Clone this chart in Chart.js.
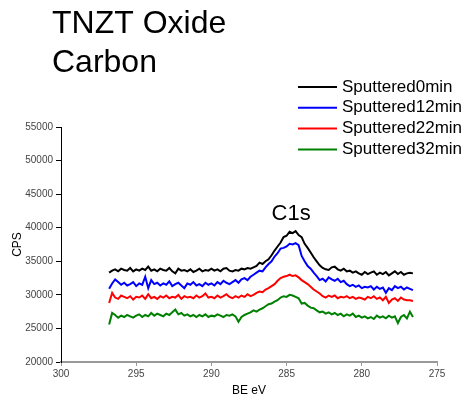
<!DOCTYPE html>
<html lang="en">
<head>
    <script src="https://cdn.jsdelivr.net/npm/chart.js"></script>
    <title>TNZT Oxide Carbon</title>
    <style>
        html, body {
            margin: 0;
            padding: 0;
            background: #fff;
        }
        canvas {
            display: block;
        }
    </style>
</head>
<body>
    <canvas id="xpsChart" width="464" height="398"></canvas>

    <script>
        // binding energy of first point and spacing (eV)
        const BE_START = 296.8;
        const BE_STEP = 0.2;

        const seriesNames = ['Sputtered0min', 'Sputtered12min', 'Sputtered22min', 'Sputtered32min'];
        const seriesColors = ['#000000', '#0000ff', '#ff0000', '#008000'];

        const sputtered0 = [
            33300, 33600, 33800, 33500, 33900, 33700, 33600, 34000, 33500, 33800,
            33600, 33900, 33700, 34200, 33600, 33800, 33500, 33900, 33700, 33600,
            34000, 33500, 33200, 33900, 33600, 33700, 33500, 33800, 33400, 33600,
            33900, 33500, 33700, 33600, 33900, 33600, 33800, 33500, 33900, 34000,
            33600, 33500, 33700, 33600, 33900, 33800, 34000, 33900, 34100, 34300,
            34800, 34600, 35000, 35300, 35900, 36600, 37200, 37800, 38600, 38800,
            39400, 39200, 39500, 38900, 38600, 37600, 37000, 36300, 35600, 35000,
            34400, 34000, 33800, 33700, 34100, 34200, 33800, 33600, 33900, 33500,
            33600, 33300, 33500, 33200, 33000, 33400, 33100, 33300, 33500, 33000,
            33300, 33100, 33400, 32900, 33200, 33500, 33100, 33400, 33000, 33200,
            33300, 33200
        ];
        const sputtered12 = [
            30900, 31700, 32300, 31900, 31500, 31800, 31400, 31600, 31900, 31300,
            31700, 31500, 32700, 31000, 32200, 31600, 31800, 31400, 31700, 31500,
            32000, 31300, 31600, 31800, 31400, 31000, 31700, 31500, 31900, 31400,
            31600, 31300, 31800, 31500, 31700, 31400, 31900, 31600, 32100, 31800,
            31600, 31900, 32200, 31800, 32300, 32500, 32200, 32700, 33000, 33300,
            33600, 33500, 34100, 34600, 35000, 35700, 36200, 36900, 37000, 37200,
            37600, 37500, 37700, 37400, 35800, 35000, 34300, 33900, 33300, 32800,
            32200, 32400, 32000, 32600, 32300, 32100, 32400, 31900, 32100, 31600,
            31300, 31500, 31200, 31400, 31000, 31200, 31100, 31300, 30800, 31200,
            30900, 31100, 30300, 31000, 30700, 31300, 31000, 31200, 30800, 31100,
            30900, 30700
        ];
        const sputtered22 = [
            28800, 30300, 29600, 29400, 29900, 29700, 29500, 29800, 29300, 29700,
            29600, 29900, 29400, 30100, 29500, 29700, 29400, 29800, 29600, 29900,
            29500, 29700, 29600, 30000, 29400, 29800, 29600, 29700, 29500, 29900,
            29600, 29800, 30200, 29600, 29700, 29500, 29900, 29600, 29800, 30100,
            29700, 29500, 29800, 29600, 29900, 29700, 30100, 29800, 30000, 30300,
            30500, 30400, 30800, 31000, 31300, 31600, 32100, 32500, 32700, 32800,
            33000, 32800, 32900, 32600, 32200, 31900, 31600, 31200, 30800, 30500,
            30200, 29800, 29600, 29900, 29700, 29900, 29500, 29700, 29600, 29800,
            29500, 29700, 29400, 29600, 29500, 29300, 29700, 29500, 29800, 29400,
            29600, 29200, 29700, 28800, 29300, 29500, 29100, 29600, 29300, 29200,
            29200, 29100
        ];
        const sputtered32 = [
            25600, 27300, 27000, 26600, 26900, 26700, 27000, 26800, 26600, 26900,
            27100, 26700, 27000, 26800, 27300, 26900, 27200, 27000, 26800, 27200,
            27000, 27400, 27800, 27100, 27300, 26900, 27100, 26800, 27000, 26700,
            27000, 26800, 27100, 26700, 26900, 26800, 27100, 26900, 26700, 27000,
            26900, 27100, 26800, 26000, 26700, 27000, 27200, 27400, 27700, 27500,
            27800, 28000, 28300, 28600, 28700, 29000, 29200, 29600, 29800, 29700,
            30000, 29900, 29700, 29500, 28700, 28800, 28400, 28100, 28000, 27700,
            27400, 27500, 27200, 27400, 27100, 27300, 27000, 27200, 26800, 27100,
            26900, 27200, 26700, 26900, 26600, 26800, 26500, 26700, 26400, 26900,
            26600, 26800, 26500, 26900, 26600, 26800, 25800, 26700, 27000, 26500,
            27500, 26700
        ];
        const seriesValues = [sputtered0, sputtered12, sputtered22, sputtered32];

        const xMin = 275, xMax = 300, xStep = 5;
        const yMin = 20000, yMax = 55000, yStep = 5000;

        const peakLabel = 'C1s';
        const peakLabelAt = { x: 284.7, y: 42000 };

        function toPoints(values) {
            return values.map((v, i) => ({ x: +(BE_START - i * BE_STEP).toFixed(1), y: v }));
        }

        const FONT = '"Liberation Sans", Arial, sans-serif';

        const textPlugin = {
            id: 'textPlugin',
            afterDraw(chart) {
                const ctx = chart.ctx;
                ctx.save();
                ctx.fillStyle = '#000';
                ctx.textAlign = 'left';
                ctx.textBaseline = 'alphabetic';
                ctx.font = '32px ' + FONT;
                ctx.fillText('TNZT Oxide', 52, 33);
                ctx.fillText('Carbon', 52, 72);

                // legend
                ctx.font = '17px ' + FONT;
                ctx.textBaseline = 'middle';
                seriesNames.forEach((name, i) => {
                    const y = 87 + i * 20.8;
                    ctx.strokeStyle = seriesColors[i];
                    ctx.lineWidth = 2;
                    ctx.beginPath();
                    ctx.moveTo(298, y);
                    ctx.lineTo(337, y);
                    ctx.stroke();
                    ctx.fillStyle = '#000';
                    ctx.fillText(name, 342, y);
                });

                // peak annotation
                ctx.font = '22px ' + FONT;
                ctx.textAlign = 'center';
                ctx.fillText(peakLabel,
                    chart.scales.x.getPixelForValue(peakLabelAt.x),
                    chart.scales.y.getPixelForValue(peakLabelAt.y));
                ctx.restore();
            }
        };

        const ctx = document.getElementById('xpsChart').getContext('2d');
        const xpsChart = new Chart(ctx, {
            type: 'line',
            data: {
                datasets: seriesNames.map((name, i) => ({
                    label: name,
                    data: toPoints(seriesValues[i]),
                    borderColor: seriesColors[i],
                    backgroundColor: seriesColors[i],
                    borderWidth: 2,
                    pointRadius: 0,
                    tension: 0,
                    fill: false
                }))
            },
            options: {
                responsive: false,
                animation: false,
                devicePixelRatio: 1,
                layout: {
                    padding: { top: 127, right: 27, left: 0, bottom: 0 }
                },
                plugins: {
                    legend: { display: false },
                    tooltip: { enabled: false }
                },
                scales: {
                    x: {
                        type: 'linear',
                        reverse: true,
                        min: xMin,
                        max: xMax,
                        afterFit: s => { s.height = 36; },
                        border: { color: '#999', width: 2 },
                        grid: { drawOnChartArea: false, tickLength: 4, color: '#999' },
                        ticks: {
                            stepSize: xStep,
                            padding: 2,
                            color: '#444',
                            font: { family: FONT, size: 10 }
                        },
                        title: {
                            display: true,
                            text: 'BE eV',
                            color: '#000',
                            padding: { top: 5, bottom: 0 },
                            font: { family: FONT, size: 12 }
                        }
                    },
                    y: {
                        min: yMin,
                        max: yMax,
                        afterFit: s => { s.width = 61; },
                        border: { color: '#000', width: 1 },
                        grid: { drawOnChartArea: false, tickLength: 5, color: '#000' },
                        ticks: {
                            stepSize: yStep,
                            padding: 3,
                            color: '#444',
                            font: { family: FONT, size: 10 },
                            callback: v => String(v)
                        },
                        title: {
                            display: true,
                            text: 'CPS',
                            color: '#000',
                            padding: { top: 10, bottom: 0 },
                            font: { family: FONT, size: 12 }
                        }
                    }
                }
            },
            plugins: [textPlugin]
        });
    </script>
</body>
</html>
